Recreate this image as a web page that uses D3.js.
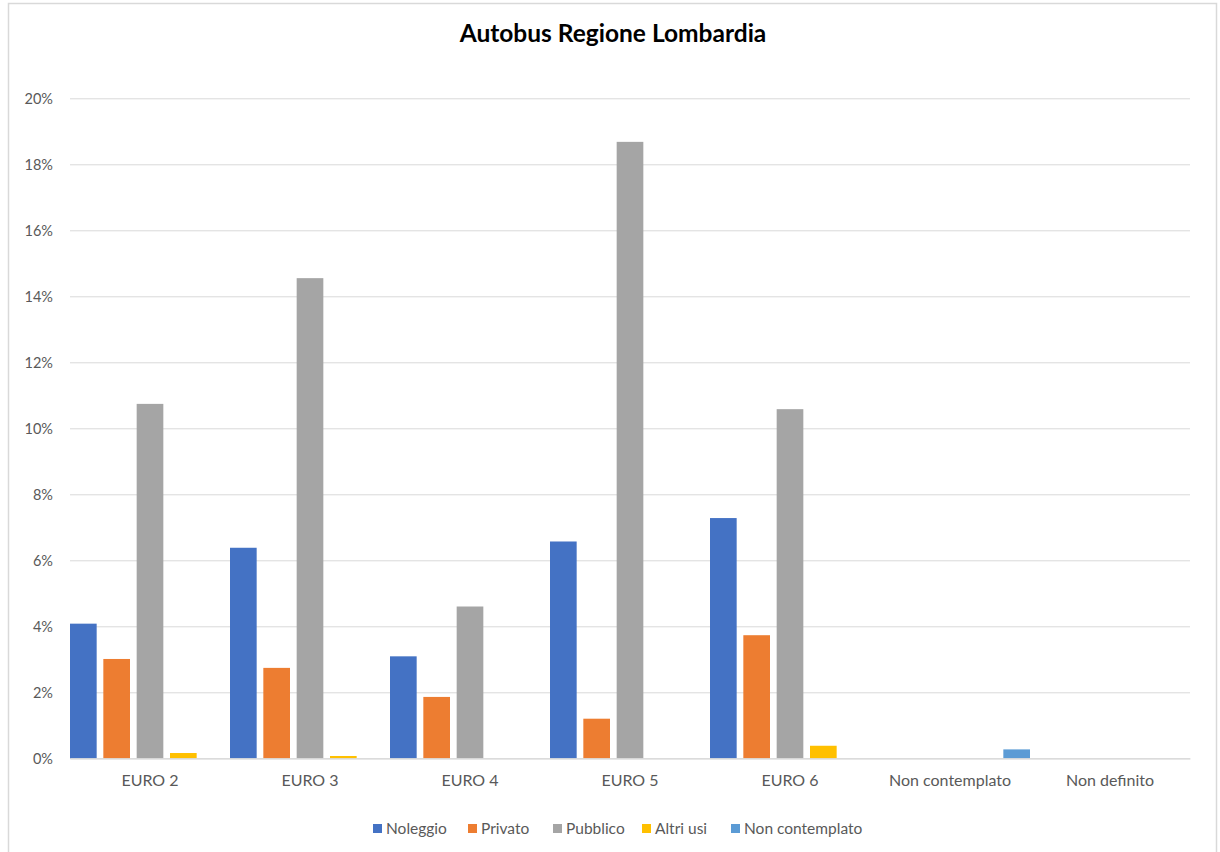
<!DOCTYPE html>
<html>
<head>
<meta charset="utf-8">
<script src="https://cdn.jsdelivr.net/npm/d3@7"></script>
<style>
  html, body { margin: 0; padding: 0; background: #ffffff; }
  svg { display: block; }
  text { font-family: Lato, "Liberation Sans", sans-serif; }
</style>
</head>
<body>
<svg id="chart" width="1220" height="852"></svg>
<script>
// Bus fleet of Regione Lombardia by emission class and type of use (share, %)
const categories = ["EURO 2", "EURO 3", "EURO 4", "EURO 5", "EURO 6", "Non contemplato", "Non definito"];
const seriesNames = ["Noleggio", "Privato", "Pubblico", "Altri usi", "Non contemplato"];
const seriesColors = ["#4472C4", "#ED7D31", "#A5A5A5", "#FFC000", "#5B9BD5"];

const noleggio       = [4.08, 6.38, 3.09, 6.57, 7.28, 0, 0];
const privato        = [3.01, 2.74, 1.86, 1.20, 3.73, 0, 0];
const pubblico       = [10.74, 14.55, 4.60, 18.68, 10.58, 0, 0];
const altriUsi       = [0.16, 0.07, 0, 0, 0.38, 0, 0];
const nonContemplato = [0, 0, 0, 0, 0, 0.27, 0];

const yTicks = [0, 2, 4, 6, 8, 10, 12, 14, 16, 18, 20];
const chartTitle = "Autobus Regione Lombardia";

const seriesValues = [noleggio, privato, pubblico, altriUsi, nonContemplato];
const rows = categories.map((c, i) => ({
  category: c,
  values: seriesNames.map((s, j) => ({ series: s, value: seriesValues[j][i], color: seriesColors[j] }))
}));

const svg = d3.select("#chart");
const plot = { left: 70, right: 1190, top: 98.3, bottom: 758.3 };

// outer chart frame
svg.append("rect")
  .attr("x", 8.5).attr("y", 3.5)
  .attr("width", 1208).attr("height", 860)
  .attr("fill", "#ffffff")
  .attr("stroke", "#d9d9d9").attr("stroke-width", 1.5);

const x = d3.scaleBand().domain(categories).range([plot.left, plot.right]).paddingInner(0).paddingOuter(0);
const xs = d3.scaleBand().domain(seriesNames).range([0, x.bandwidth()]).paddingInner(0.2).paddingOuter(0);
const y = d3.scaleLinear().domain([0, 20]).range([plot.bottom, plot.top]);

// horizontal gridlines with percentage labels
const yAxis = d3.axisLeft(y)
  .tickValues(yTicks)
  .tickSize(-(plot.right - plot.left))
  .tickPadding(17)
  .tickFormat(d => d + "%");

const gy = svg.append("g")
  .attr("transform", `translate(${plot.left},0)`)
  .call(yAxis);
gy.select(".domain").remove();
gy.selectAll(".tick line").attr("stroke", "#d9d9d9").attr("stroke-width", 1);
gy.selectAll(".tick text")
  .attr("fill", "#595959")
  .style("font-size", "14.5px")
  .attr("dy", "0.34em");

// bars
const groups = svg.append("g").selectAll("g")
  .data(rows)
  .join("g")
  .attr("transform", d => `translate(${x(d.category)},0)`);

groups.selectAll("rect")
  .data(d => d.values.filter(v => v.value > 0))
  .join("rect")
  .attr("x", d => xs(d.series))
  .attr("y", d => y(d.value))
  .attr("width", xs.bandwidth())
  .attr("height", d => y(0) - y(d.value))
  .attr("fill", d => d.color);

// category axis
const xAxis = d3.axisBottom(x).tickSize(0).tickPadding(16);
const gx = svg.append("g")
  .attr("transform", `translate(0,${plot.bottom})`)
  .call(xAxis);
gx.select(".domain").attr("stroke", "#d9d9d9").attr("stroke-width", 1.2);
gx.selectAll(".tick text")
  .attr("fill", "#595959")
  .style("font-size", "16px");

// title
svg.append("text")
  .attr("x", 613).attr("y", 41.5)
  .attr("text-anchor", "middle")
  .attr("fill", "#000000")
  .style("font-size", "24.5px")
  .style("font-weight", "bold")
  .text(chartTitle);

// legend
const legend = svg.append("g").attr("transform", "translate(0,834)");
const legendX = [373, 468, 553, 642, 731];
const items = legend.selectAll("g")
  .data(seriesNames)
  .join("g")
  .attr("transform", (d, i) => `translate(${legendX[i]},0)`);
items.append("rect")
  .attr("x", 0).attr("y", -10)
  .attr("width", 9).attr("height", 9)
  .attr("fill", (d, i) => seriesColors[i]);
items.append("text")
  .attr("x", 13).attr("y", 0)
  .attr("fill", "#595959")
  .style("font-size", "15.5px")
  .text(d => d);
</script>
</body>
</html>
